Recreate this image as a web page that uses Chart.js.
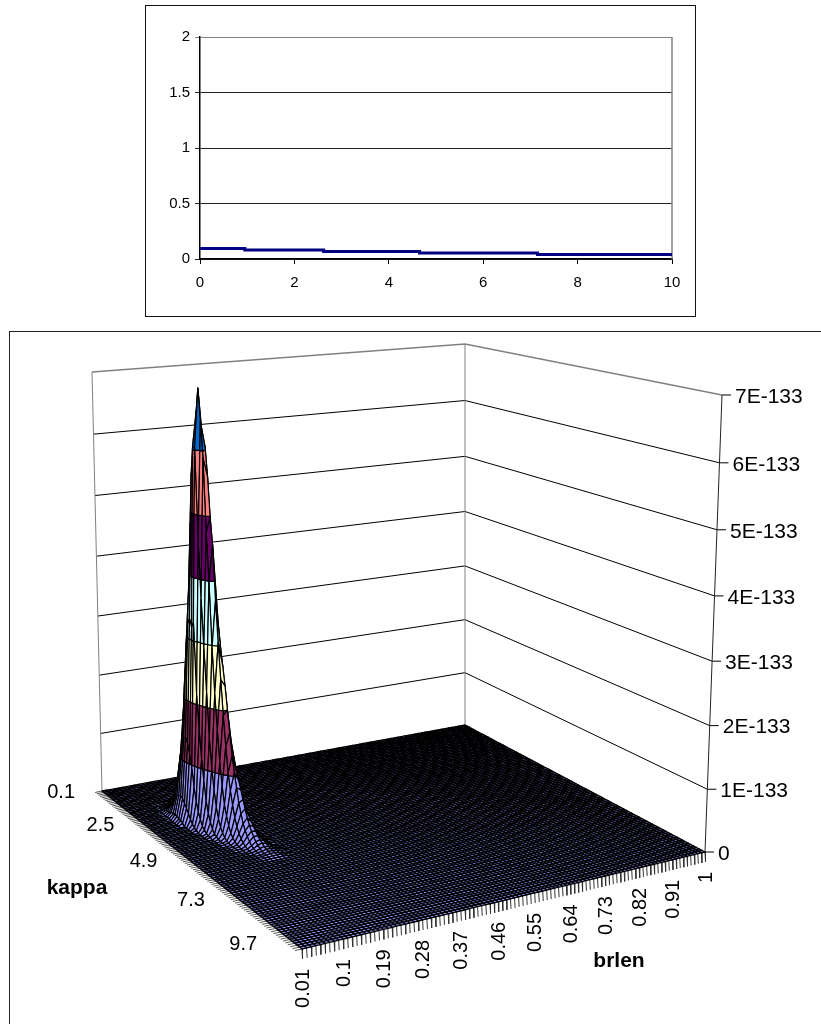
<!DOCTYPE html>
<html><head><meta charset="utf-8">
<script src="https://cdn.jsdelivr.net/npm/chart.js@4"></script>
<style>
html,body{margin:0;padding:0;background:#fff;width:821px;height:1024px;overflow:hidden}
#f1{position:absolute;left:145px;top:5px;width:549px;height:310px;border:1px solid #111;box-sizing:content-box}
#f2{position:absolute;left:9px;top:331px;width:830px;height:720px;border:1px solid #222}
canvas{position:absolute;display:block}
#c1{left:146px;top:6px}
#c2{left:0;top:320px}
</style></head><body>
<div id="f1"></div><div id="f2"></div>
<canvas id="c1" width="549" height="310"></canvas>
<canvas id="c2" width="821" height="704"></canvas>
<script>
// ---------- upper chart ----------
const stepX = [0, 0.95, 2.62, 4.65, 7.15, 10];
const stepY = [0.095, 0.082, 0.068, 0.055, 0.04, 0.04];

// ---------- lower chart ----------
const brlenCats = [0.01,0.02,0.03,0.04,0.05,0.06,0.07,0.08,0.09,0.1,0.11,0.12,0.13,0.14,0.15,0.16,0.17,0.18,0.19,0.2,0.21,0.22,0.23,0.24,0.25,0.26,0.27,0.28,0.29,0.3,0.31,0.32,0.33,0.34,0.35,0.36,0.37,0.38,0.39,0.4,0.41,0.42,0.43,0.44,0.45,0.46,0.47,0.48,0.49,0.5,0.51,0.52,0.53,0.54,0.55,0.56,0.57,0.58,0.59,0.6,0.61,0.62,0.63,0.64,0.65,0.66,0.67,0.68,0.69,0.7,0.71,0.72,0.73,0.74,0.75,0.76,0.77,0.78,0.79,0.8,0.81,0.82,0.83,0.84,0.85,0.86,0.87,0.88,0.89,0.9,0.91,0.92,0.93,0.94,0.95,0.96,0.97,0.98,0.99,1];
const kappaCats = [0.1,0.2,0.3,0.4,0.5,0.6,0.7,0.8,0.9,1,1.1,1.2,1.3,1.4,1.5,1.6,1.7,1.8,1.9,2,2.1,2.2,2.3,2.4,2.5,2.6,2.7,2.8,2.9,3,3.1,3.2,3.3,3.4,3.5,3.6,3.7,3.8,3.9,4,4.1,4.2,4.3,4.4,4.5,4.6,4.7,4.8,4.9,5,5.1,5.2,5.3,5.4,5.5,5.6,5.7,5.8,5.9,6,6.1,6.2,6.3,6.4,6.5,6.6,6.7,6.8,6.9,7,7.1,7.2,7.3,7.4,7.5,7.6,7.7,7.8,7.9,8,8.1,8.2,8.3,8.4,8.5,8.6,8.7,8.8,8.9,9,9.1,9.2,9.3,9.4,9.5,9.6,9.7,9.8,9.9,10];
const brlenLabelled = [0.01,0.1,0.19,0.28,0.37,0.46,0.55,0.64,0.73,0.82,0.91,1];
const kappaLabelled = [0.1,2.5,4.9,7.3,9.7];
const zTicks = [0,1,2,3,4,5,6,7];
const zLabels = ['0','1E-133','2E-133','3E-133','4E-133','5E-133','6E-133','7E-133'];
const bandColors = ['#9999FF','#993366','#FFFFCC','#CCFFFF','#660066','#FF8080','#0066CC'];

// surface height, in units of 1E-133; everything not listed reads as 0
const peakFirstKappaIndex = 14;
const peakRowStart = [6,7,6,6,6,6,6,6,6,6,6,7,7,7,7,7,8,8,8,8,8,9,9,9,9,9,10,10,10,10,10,11,11,11,11,11,12,12,12,12,12,14,14];
const peakRowValues = [
[0,0,.01,.01,.01,0],
[0,.01,.01,.01,.01,0],
[0,.01,.01,.02,.02,.01,.01],
[0,.01,.02,.03,.03,.02,.01,0],
[0,.01,.04,.05,.06,.04,.02,.01],
[.01,.03,.07,.12,.13,.10,.05,.01,0],
[.01,.04,.11,.22,.27,.22,.11,.04,.01],
[.01,.05,.18,.36,.50,.44,.24,.09,.02,.01],
[.01,.06,.24,.55,.82,.79,.48,.19,.04,.01],
[.01,.08,.31,.80,1.29,1.35,.90,.39,.11,.02],
[.01,.08,.37,1.02,1.82,2.08,1.52,.71,.22,.04],
[.09,.40,1.23,2.39,2.99,2.39,1.23,.40,.09],
[.08,.41,1.36,2.90,3.97,3.47,1.95,.70,.16,.02],
[.06,.39,1.39,3.23,4.82,4.61,2.83,1.12,.28,.05],
[.06,.33,1.31,3.33,5.60,6.05,3.81,1.63,.46,.08],
[.04,.27,1.15,3.21,6.05,6.60,5.20,2.25,.68,.13],
[.20,.94,3.30,6.05,6.95,6.05,3.30,.94,.20],
[.13,.65,2.15,4.57,6.45,6.05,3.30,1.10,.25,.04],
[.08,.44,1.59,3.69,5.90,5.60,3.23,1.27,.32,.05],
[.04,.29,1.15,2.92,4.75,4.97,3.33,1.43,.39,.07],
[.03,.19,.80,2.24,3.99,4.56,3.34,1.57,.47,.09],
[.10,.50,1.51,2.96,3.70,2.96,1.51,.50,.10],
[.07,.32,1.05,2.24,3.05,2.67,1.50,.54,.12,.02],
[.03,.20,.71,1.67,2.48,2.37,1.45,.57,.14,.02],
[.02,.11,.46,1.18,1.92,2.01,1.35,.58,.16,.02],
[.02,.06,.29,.81,1.44,1.65,1.21,.57,.17,.04],
[.04,.18,.53,1.04,1.30,1.04,.53,.18,.04],
[.02,.11,.37,.77,1.05,.92,.51,.19,.04,.01],
[.01,.06,.24,.56,.83,.79,.49,.19,.05,.01],
[.01,.03,.14,.38,.61,.65,.43,.19,.06,.01],
[.01,.02,.09,.26,.46,.52,.38,.18,.05,.01],
[.01,.05,.17,.32,.40,.32,.17,.05,.01],
[.01,.03,.11,.23,.31,.27,.15,.06,.01,.01],
[.01,.02,.07,.16,.23,.22,.13,.05,.01,.01],
[.01,.01,.04,.10,.17,.17,.11,.05,.02,.01],
[0,.01,.02,.06,.11,.13,.10,.05,.01,0],
[0,.01,.04,.08,.10,.08,.04,.01,0],
[0,.01,.02,.05,.07,.06,.03,.01,0],
[0,0,.02,.03,.05,.05,.03,.01,.01],
[0,0,.01,.02,.04,.04,.03,.01,.01],
[0,0,.01,.02,.03,.03,.02,.01,0],
[.01,.01,.02,.02,.02,.01,.01],
[0,.01,.01,.01,.01,.01,0]
];

// ---------- camera: corners of the floor and ceiling of the 3-D box (brlen, kappa) ----------
const floorCorners = [[102,791],[465,725],[705,852],[302,949]];
const ceilCorners  = [[92,372],[465,344],[722,395],[298,438]];
const heightWarp = 0.045;
function squareToQuad(q){
  const [x0,y0]=q[0],[x1,y1]=q[1],[x2,y2]=q[2],[x3,y3]=q[3];
  const dx1=x1-x2,dx2=x3-x2,sx=x0-x1+x2-x3,dy1=y1-y2,dy2=y3-y2,sy=y0-y1+y2-y3;
  const den=dx1*dy2-dx2*dy1,g=(sx*dy2-dx2*sy)/den,h=(dx1*sy-sx*dy1)/den;
  const a=x1-x0+g*x1,b=x3-x0+h*x3,d=y1-y0+g*y1,e=y3-y0+h*y3;
  return (u,v)=>{const w=g*u+h*v+1;return [(a*u+b*v+x0)/w,(d*u+e*v+y0)/w];};
}
const floorMap=squareToQuad(floorCorners), ceilMap=squareToQuad(ceilCorners);
const zMax=zTicks[zTicks.length-1];
function project(u,v,z){
  const f=floorMap(u,v),c=ceilMap(u,v),s=z/zMax,t=s-heightWarp*s*(1-s);
  return {x:f[0]+(c[0]-f[0])*t,y:f[1]+(c[1]-f[1])*t};
}
const nB=brlenCats.length,nK=kappaCats.length;
const uOf=i=>i/(nB-1), vOf=j=>j/(nK-1);
const zAt=(j,i)=>{
  const r=peakRowValues[j-peakFirstKappaIndex];
  if(!r) return 0;
  const k=i-peakRowStart[j-peakFirstKappaIndex];
  return (k>=0&&k<r.length)?r[k]:0;
};

// ---------- datasets in view coordinates ----------
const surfacePts=[];
for(let j=0;j<nK;j++)for(let i=0;i<nB;i++)surfacePts.push(project(uOf(i),vOf(j),zAt(j,i)));

const line=(label,data,color,width)=>({label,data,showLine:true,pointRadius:0,borderColor:color,borderWidth:width,spanGaps:false,clip:false,tension:0});
const wallPath=z=>[project(0,0,z),project(1,0,z),project(1,1,z)];
const wallDatasets=zTicks.filter(z=>z>0).map(z=>line('wall '+z,wallPath(z),z===zMax?'#808080':'#000',z===zMax?1.5:1));
const gap={x:null,y:null};
const vertical=[project(0,0,0),project(0,0,zMax),gap,project(1,0,0),project(1,0,zMax)];
const zAxisLine=[project(1,1,0),project(1,1,zMax)];
const zTickSegs=[];
zTicks.forEach(z=>{const p=project(1,1,z);zTickSegs.push(p,{x:p.x+9,y:p.y},gap);});
const brlenTickSegs=[];
brlenCats.forEach((b,i)=>{const p=project(uOf(i),1,0);brlenTickSegs.push(p,{x:p.x+0.5,y:p.y+10},gap);});
const kappaTickSegs=[];
kappaCats.forEach((k,j)=>{const p=project(0,vOf(j),0);kappaTickSegs.push(p,{x:p.x-7,y:p.y+1.5},gap);});

const surfacePlugin={
  id:'surface',
  afterDatasetsDraw(chart){
    const ctx=chart.ctx, idx=chart.data.datasets.findIndex(d=>d.label==='surface');
    const el=chart.getDatasetMeta(idx).data;
    const V=(j,i)=>{const e=el[j*nB+i];return {x:e.x,y:e.y,z:zAt(j,i)};};
    ctx.save();ctx.lineJoin='round';ctx.strokeStyle='#000';
    const draw=(poly,color,w)=>{
      ctx.beginPath();poly.forEach((p,n)=>n?ctx.lineTo(p.x,p.y):ctx.moveTo(p.x,p.y));ctx.closePath();
      ctx.fillStyle=color;ctx.fill();ctx.lineWidth=w;ctx.stroke();
    };
    const clip=(poly,lim,keepAbove)=>{
      const out=[],inside=p=>keepAbove?p.z>=lim:p.z<=lim;
      poly.forEach((a,n)=>{
        const b=poly[(n+1)%poly.length];
        if(inside(a))out.push(a);
        if(inside(a)!==inside(b)){const t=(lim-a.z)/(b.z-a.z);out.push({x:a.x+(b.x-a.x)*t,y:a.y+(b.y-a.y)*t,z:lim});}
      });
      return out;
    };
    for(let j=0;j<nK-1;j++)for(let i=nB-2;i>=0;i--){
      const q=[V(j,i),V(j,i+1),V(j+1,i+1),V(j+1,i)];
      const top=Math.max(q[0].z,q[1].z,q[2].z,q[3].z);
      if(top===0){draw(q,bandColors[0],1.3);continue;}
      if(top<=1){draw(q,bandColors[0],1.2);continue;}
      bandColors.forEach((c,b)=>{
        let p=clip(q,b,true);
        if(p.length>2)p=clip(p,b+1,false);
        if(p.length>2)draw(p,c,1.2);
      });
    }
    ctx.restore();
  },
  afterDraw(chart){
    const ctx=chart.ctx,X=v=>chart.scales.x.getPixelForValue(v),Y=v=>chart.scales.y.getPixelForValue(v);
    ctx.save();ctx.fillStyle='#000';ctx.font='21px "Liberation Sans"';
    ctx.textBaseline='middle';ctx.textAlign='left';
    zTicks.forEach((z,n)=>{const p=project(1,1,z);ctx.fillText(zLabels[n],X(p.x+13),Y(p.y+2));});
    ctx.font='20px "Liberation Sans"';
    ctx.textAlign='right';
    kappaLabelled.forEach(k=>{const j=kappaCats.indexOf(k),t=vOf(j),p=project(0,t,0);
      ctx.fillText(String(k),X(p.x-27-11*t),Y(p.y+1));});
    brlenLabelled.forEach(b=>{const i=brlenCats.indexOf(b),p=project(uOf(i),1,0);
      ctx.save();ctx.translate(X(p.x+1),Y(p.y+20));ctx.rotate(-Math.PI/2);ctx.fillText(String(b),0,0);ctx.restore();});
    ctx.font='bold 21px "Liberation Sans"';ctx.textAlign='center';
    ctx.fillText('kappa',X(77),Y(888));
    ctx.fillText('brlen',X(619),Y(961));
    ctx.restore();
  }
};

new Chart(document.getElementById('c2'),{
  type:'scatter',
  data:{datasets:[
    {label:'surface',data:surfacePts,pointRadius:0,showLine:false,clip:false},
    line('z axis',zAxisLine,'#222',1),
    line('z ticks',zTickSegs,'#000',1),
    line('brlen ticks',brlenTickSegs,'#333',1),
    line('kappa ticks',kappaTickSegs,'#555',1),
    line('wall verticals',vertical,'#808080',1),
    ...wallDatasets
  ]},
  options:{responsive:false,animation:false,events:[],layout:{padding:0},
    plugins:{legend:{display:false},tooltip:{enabled:false},title:{display:false}},
    scales:{
      x:{type:'linear',min:0,max:821,display:false},
      y:{type:'linear',min:320,max:1024,reverse:true,display:false}
    }},
  plugins:[surfacePlugin]
});

const edgePlugin={id:'edge',beforeDatasetsDraw(c){
  const a=c.chartArea,x=c.ctx;x.save();x.strokeStyle='#808080';x.lineWidth=1.5;
  x.beginPath();x.moveTo(a.right,a.top);x.lineTo(a.right,a.bottom);x.stroke();x.restore();}};
new Chart(document.getElementById('c1'),{
  type:'scatter',
  data:{datasets:[{label:'series',data:stepX.map((x,i)=>({x,y:stepY[i]})),showLine:true,stepped:true,
    borderColor:'#000080',borderWidth:3,pointRadius:0,clip:false}]},
  options:{responsive:false,animation:false,events:[],
    layout:{padding:{top:31,right:23,left:0,bottom:0}},
    plugins:{legend:{display:false},tooltip:{enabled:false}},
    scales:{
      x:{type:'linear',min:0,max:10,afterFit(s){s.height=57;},
        ticks:{stepSize:2,color:'#000',font:{family:'"Liberation Sans"',size:15},maxRotation:0,padding:10},
        grid:{drawOnChartArea:false,drawTicks:true,tickLength:5,color:'#000'},border:{color:'#000',width:1.5}},
      y:{type:'linear',min:0,max:2,afterFit(s){s.width=54;},
        ticks:{stepSize:0.5,color:'#000',font:{family:'"Liberation Sans"',size:15},padding:5,callback:v=>String(v)},
        grid:{tickLength:5,color:c=>c.tick.value===2?'#808080':'#222'},border:{color:'#000',width:1.5}}
    }},
  plugins:[edgePlugin]
});
</script></body></html>
